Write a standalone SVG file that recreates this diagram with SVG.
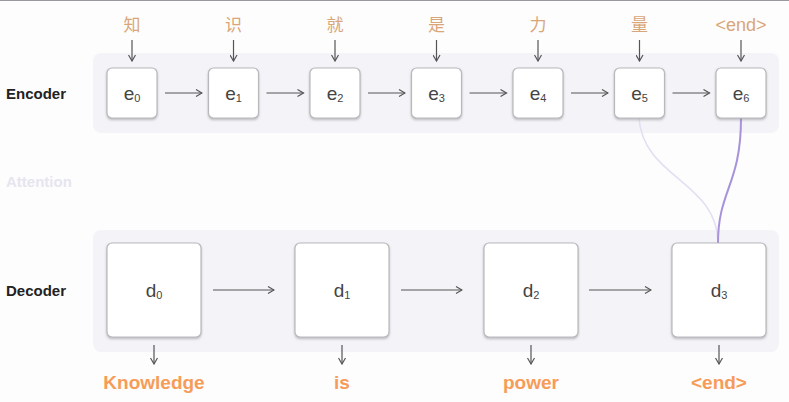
<svg xmlns="http://www.w3.org/2000/svg" width="789" height="402" viewBox="0 0 789 402">
<style>
  .band{fill:#f4f3f8}
  .node{fill:#ffffff;stroke:#b9b9bd;stroke-width:1.2;filter:url(#sh)}
  .lbl{font-family:"Liberation Sans",Arial,sans-serif;font-weight:bold;font-size:15px;fill:#222}
  .att{font-family:"Liberation Sans",Arial,sans-serif;font-weight:bold;font-size:15px;fill:#e6e5ee}
  .nt{font-family:"Liberation Sans",Arial,sans-serif;font-size:19px;fill:#444;text-anchor:middle}
  .sub{font-size:11px}
  .zh{font-family:"Noto Sans CJK SC","Liberation Sans",sans-serif;font-size:17px;fill:#d9a679;text-anchor:middle}
  .en{font-family:"Liberation Sans",Arial,sans-serif;font-size:18px;fill:#d9a679;text-anchor:middle}
  .out{font-family:"Liberation Sans",Arial,sans-serif;font-weight:bold;font-size:19px;fill:#f79c58;text-anchor:middle}
  .ar{stroke:#555;stroke-width:1.2;fill:none;marker-end:url(#ah)}
</style>
<defs>
  <marker id="ah" markerWidth="8" markerHeight="8" refX="7" refY="4" orient="auto" markerUnits="userSpaceOnUse">
    <path d="M1,0.5 L7,4 L1,7.5" fill="none" stroke="#555" stroke-width="1.2"/>
  </marker>
  <filter id="sh" x="-10%" y="-10%" width="120%" height="130%">
    <feDropShadow dx="0" dy="1.5" stdDeviation="0.8" flood-color="#888" flood-opacity="0.55"/>
  </filter>
</defs>
<rect x="0" y="0" width="789" height="402" fill="#fdfdfe"/>
<line x1="0" y1="0.5" x2="789" y2="0.5" stroke="#9a9a9e" stroke-width="1"/>

<rect class="band" x="93" y="53" width="686" height="80" rx="8"/>
<rect class="band" x="93" y="230" width="686" height="122" rx="8"/>

<text class="lbl" x="6" y="99">Encoder</text>
<text class="att" x="6" y="187">Attention</text>
<text class="lbl" x="6" y="296">Decoder</text>

<g id="attention">
  <path d="M639,118 C643,178 718,182 718,243" fill="none" stroke="#e3dff2" stroke-width="1.6"/>
  <path d="M741,118 C741,185 718,190 718,243" fill="none" stroke="#a892da" stroke-width="2"/>
</g>

<g id="connectors">
  <line class="ar" x1="132" y1="40" x2="132" y2="61"/>
  <line class="ar" x1="233.5" y1="40" x2="233.5" y2="61"/>
  <line class="ar" x1="335" y1="40" x2="335" y2="61"/>
  <line class="ar" x1="436.5" y1="40" x2="436.5" y2="61"/>
  <line class="ar" x1="538" y1="40" x2="538" y2="61"/>
  <line class="ar" x1="639.5" y1="40" x2="639.5" y2="61"/>
  <line class="ar" x1="741" y1="40" x2="741" y2="61"/>
  <line class="ar" x1="165" y1="93" x2="202" y2="93"/>
  <line class="ar" x1="266.5" y1="93" x2="303.5" y2="93"/>
  <line class="ar" x1="368" y1="93" x2="405" y2="93"/>
  <line class="ar" x1="469.5" y1="93" x2="506.5" y2="93"/>
  <line class="ar" x1="571" y1="93" x2="608" y2="93"/>
  <line class="ar" x1="672.5" y1="93" x2="709.5" y2="93"/>
  <line class="ar" x1="213" y1="290" x2="274" y2="290"/>
  <line class="ar" x1="401" y1="290" x2="462" y2="290"/>
  <line class="ar" x1="589" y1="290" x2="651" y2="290"/>
  <line class="ar" x1="154" y1="345" x2="154" y2="364"/>
  <line class="ar" x1="342" y1="345" x2="342" y2="364"/>
  <line class="ar" x1="531" y1="345" x2="531" y2="364"/>
  <line class="ar" x1="719" y1="345" x2="719" y2="364"/>
</g>

<g id="inputs">
  <text class="zh" x="132" y="31">知</text>
  <text class="zh" x="233.5" y="31">识</text>
  <text class="zh" x="335" y="31">就</text>
  <text class="zh" x="436.5" y="31">是</text>
  <text class="zh" x="538" y="31">力</text>
  <text class="zh" x="639.5" y="31">量</text>
  <text class="en" x="741" y="31">&lt;end&gt;</text>
</g>

<g id="e0"><rect class="node" x="107" y="68" width="50" height="50" rx="5"/><text class="nt" x="132" y="100">e<tspan class="sub" dy="2">0</tspan></text></g>
<g id="e1"><rect class="node" x="208.5" y="68" width="50" height="50" rx="5"/><text class="nt" x="233.5" y="100">e<tspan class="sub" dy="2">1</tspan></text></g>
<g id="e2"><rect class="node" x="310" y="68" width="50" height="50" rx="5"/><text class="nt" x="335" y="100">e<tspan class="sub" dy="2">2</tspan></text></g>
<g id="e3"><rect class="node" x="411.5" y="68" width="50" height="50" rx="5"/><text class="nt" x="436.5" y="100">e<tspan class="sub" dy="2">3</tspan></text></g>
<g id="e4"><rect class="node" x="513" y="68" width="50" height="50" rx="5"/><text class="nt" x="538" y="100">e<tspan class="sub" dy="2">4</tspan></text></g>
<g id="e5"><rect class="node" x="614.5" y="68" width="50" height="50" rx="5"/><text class="nt" x="639.5" y="100">e<tspan class="sub" dy="2">5</tspan></text></g>
<g id="e6"><rect class="node" x="716" y="68" width="50" height="50" rx="5"/><text class="nt" x="741" y="100">e<tspan class="sub" dy="2">6</tspan></text></g>

<g id="d0"><rect class="node" x="107" y="243" width="94" height="94" rx="5"/><text class="nt" x="154" y="297">d<tspan class="sub" dy="2">0</tspan></text></g>
<g id="d1"><rect class="node" x="295" y="243" width="94" height="94" rx="5"/><text class="nt" x="342" y="297">d<tspan class="sub" dy="2">1</tspan></text></g>
<g id="d2"><rect class="node" x="484" y="243" width="94" height="94" rx="5"/><text class="nt" x="531" y="297">d<tspan class="sub" dy="2">2</tspan></text></g>
<g id="d3"><rect class="node" x="672" y="243" width="94" height="94" rx="5"/><text class="nt" x="719" y="297">d<tspan class="sub" dy="2">3</tspan></text></g>

<g id="outputs">
  <text class="out" x="154" y="389">Knowledge</text>
  <text class="out" x="342" y="389">is</text>
  <text class="out" x="531" y="389">power</text>
  <text class="out" x="719" y="389">&lt;end&gt;</text>
</g>
</svg>
